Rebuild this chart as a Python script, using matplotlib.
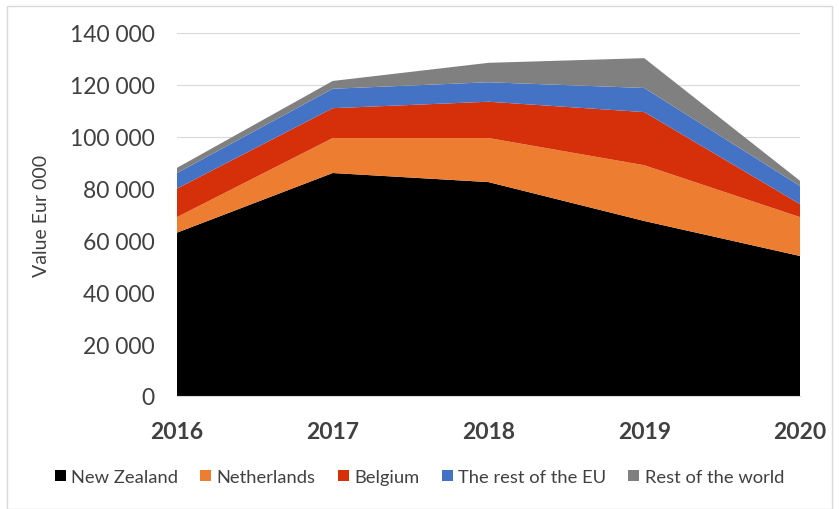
import matplotlib
matplotlib.use("Agg")
import matplotlib.pyplot as plt
from matplotlib.ticker import FuncFormatter, MultipleLocator
from matplotlib.patches import Rectangle

years = [2016, 2017, 2018, 2019, 2020]
new_zealand = [63000, 86000, 82500, 67500, 54000]
netherlands = [6000, 13500, 17000, 21500, 15000]
belgium = [11000, 11500, 14000, 20500, 5000]
rest_eu = [6000, 7500, 7500, 9300, 7000]
rest_world = [2000, 3000, 7500, 11500, 2000]

labels = ["New Zealand", "Netherlands", "Belgium", "The rest of the EU", "Rest of the world"]
colors = ["#000000", "#ED7D31", "#D5300A", "#4472C4", "#808080"]

plt.rcParams['font.family'] = ['Lato', 'DejaVu Sans']

fig = plt.figure(figsize=(8.39, 5.10), dpi=100)
ax = fig.add_axes([177/839, 1-397/510, (800-177)/839, (397-34)/510])

ax.stackplot(years, new_zealand, netherlands, belgium, rest_eu, rest_world,
             labels=labels, colors=colors, linewidth=0, zorder=2)

ax.set_xlim(2016, 2020)
ax.set_ylim(0, 140000)
ax.yaxis.set_major_locator(MultipleLocator(20000))
ax.set_xticks(years)
ax.yaxis.set_major_formatter(FuncFormatter(lambda v, p: f"{int(v):,}".replace(",", " ")))
ax.grid(axis='y', color='#D9D9D9', linewidth=0.8, zorder=0)
ax.set_axisbelow(True)
for s in ['top', 'right', 'left']:
    ax.spines[s].set_visible(False)
ax.spines['bottom'].set_color('#D9D9D9')
ax.tick_params(axis='both', length=0)
ax.tick_params(axis='y', labelsize=16.5, labelcolor='#404040', pad=16)
ax.tick_params(axis='x', labelsize=16.5, labelcolor='#404040', pad=18)
for t in ax.get_xticklabels():
    t.set_fontweight('bold')
ax.set_ylabel("Value Eur 000", fontsize=14, color='#404040', labelpad=14)

handles, lbls = ax.get_legend_handles_labels()
fig.legend(handles, lbls, loc='center', bbox_to_anchor=(0.5, 1-478/510), ncol=5,
           frameon=False, fontsize=13.2, handlelength=0.6, handleheight=0.6,
           handletextpad=0.3, columnspacing=1.2, labelcolor='#404040')

fig.patches.append(Rectangle((7/839, 0), (832-7)/839, 1-7/510, transform=fig.transFigure,
                             fill=False, edgecolor='#D9D9D9', linewidth=1))

fig.savefig("out.png", dpi=100)
